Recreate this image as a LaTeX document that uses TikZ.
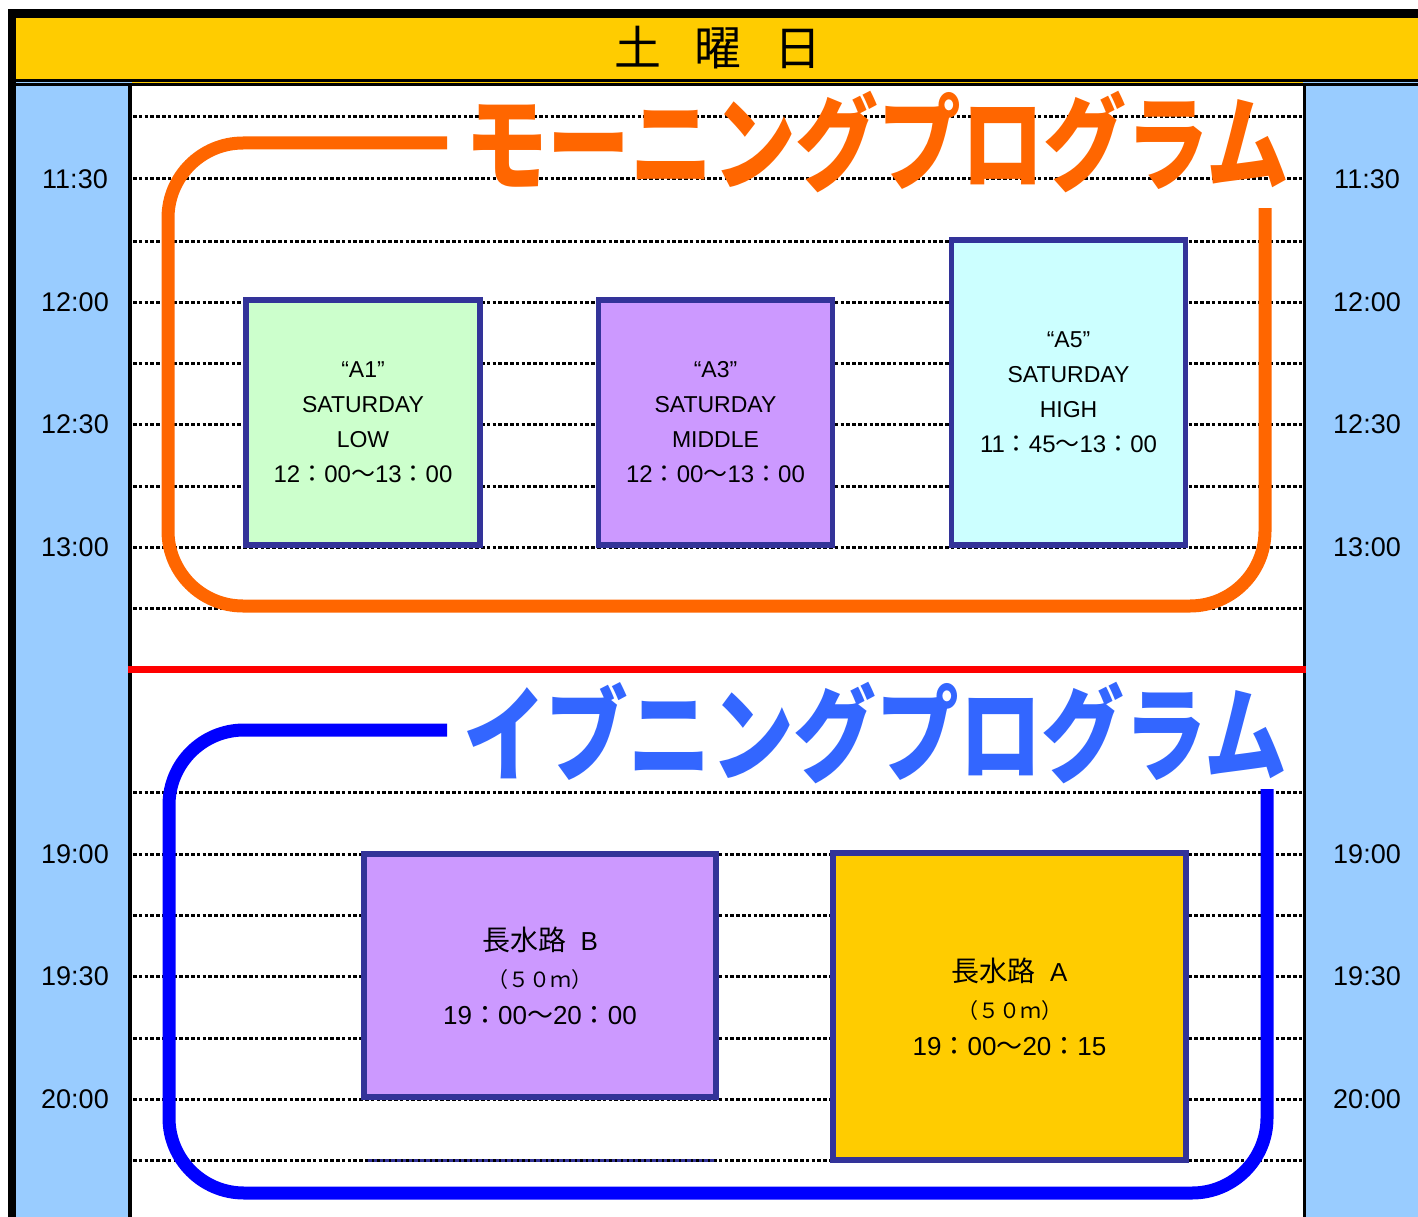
\documentclass[tikz,border=0pt]{standalone}
\usepackage{fontspec}
\setmainfont{Liberation Sans}
\newfontfamily\cjk{Noto Sans CJK JP}
\definecolor{hdryellow}{HTML}{FFCC00}
\definecolor{colblue}{HTML}{99CCFF}
\definecolor{progorange}{HTML}{FF6600}
\definecolor{titleblue}{HTML}{3366FF}
\definecolor{lineblue}{HTML}{0000FF}
\definecolor{boxline}{HTML}{333399}
\definecolor{fgreen}{HTML}{CCFFCC}
\definecolor{fpurple}{HTML}{CC99FF}
\definecolor{fcyan}{HTML}{CCFFFF}
\begin{document}
\begin{tikzpicture}[x=1pt,y=-1pt,
  dotline/.style={line width=3, dash pattern=on 3.5pt off 2.3pt},
  tlab/.style={font=\fontsize{27}{30}\selectfont, inner sep=0},
  progbox/.style={draw=boxline, line width=5.5, align=center, inner sep=0,
     font=\fontsize{23}{35}\selectfont},
  bigline/.style={line width=13, rounded corners=75}
]
\useasboundingbox (0,0) rectangle (1418,1217);
\fill[white] (0,0) rectangle (1418,1217);
% columns
\fill[colblue] (16,86) rectangle (130,1217);
\fill[colblue] (1304,86) rectangle (1418,1217);
% header
\fill[hdryellow] (16,18) rectangle (1418,79);
\fill[black] (8,9) rectangle (1418,18);
\fill[black] (8,9) rectangle (16,1217);
\fill[black] (16,79) rectangle (1418,82);
\fill[hdryellow] (16,82) rectangle (1418,83.3);
\fill[colblue] (16,82) rectangle (132,83.3);
\fill[colblue] (1303,82) rectangle (1418,83.3);
\fill[black] (16,83.3) rectangle (1418,86.3);
\draw[line width=4] (130,83) -- (130,1217);
\draw[line width=3] (1304.5,83) -- (1304.5,1217);
\node[font=\cjk\fontsize{47}{50}\selectfont, inner sep=0] (hdr) at (718,48) {土\hspace{33pt}曜\hspace{33pt}日};
% dotted grid
\foreach \yy in {117,179,241,302,363,424,486,547,608,792,854,915,976,1038,1099,1160}
  \draw[dotline] (133,\yy) -- (1302,\yy);
\draw[dotline, boxline] (368,1160) -- (715,1160);
% time labels
\foreach \t/\yy in {11:30/179,12:00/302,12:30/424,13:00/547,19:00/854,19:30/976,20:00/1099}{
  \node[tlab] (tl\yy) at (75,\yy) {\t};
  \node[tlab] (tr\yy) at (1367,\yy) {\t};
}
% red separator
\draw[red, line width=7.5] (128,669.5) -- (1306,669.5);
% program frames
\draw[bigline, progorange] (447,143) -- (168,143) -- (168,606) -- (1265,606) -- (1265,208);
\draw[bigline, lineblue] (447,730) -- (169,730) -- (169,1193) -- (1267,1193) -- (1267,789);
% titles
\node[anchor=base west, inner sep=0, text=progorange] (morning) at (465,183)
  {\scalebox{0.795}[1]{\cjk\bfseries\fontsize{104}{110}\selectfont モーニングプログラム}};
\node[anchor=base west, inner sep=0, text=titleblue] (evening) at (463,773)
  {\scalebox{0.795}[1]{\cjk\bfseries\fontsize{104}{110}\selectfont イブニングプログラム}};
% boxes
\node[progbox, fill=fgreen, minimum width=234, minimum height=245] (a1) at (363,422.5)
  {“A1”\\SATURDAY\\LOW\\{\fontsize{24}{35}\selectfont 12{\cjk ：}00{\cjk ～}13{\cjk ：}00}};
\node[progbox, fill=fpurple, minimum width=234, minimum height=245] (a3) at (715.5,422.5)
  {“A3”\\SATURDAY\\MIDDLE\\{\fontsize{24}{35}\selectfont 12{\cjk ：}00{\cjk ～}13{\cjk ：}00}};
\node[progbox, fill=fcyan, minimum width=234, minimum height=305] (a5) at (1068.5,392.5)
  {“A5”\\SATURDAY\\HIGH\\{\fontsize{24}{35}\selectfont 11{\cjk ：}45{\cjk ～}13{\cjk ：}00}};
\node[progbox, fill=fpurple, minimum width=352, minimum height=243, font=\fontsize{26}{37}\selectfont] (lb) at (540,975.5)
  {{\cjk\fontsize{28}{37}\selectfont 長水路}\ \ B\\{\cjk\fontsize{21}{37}\selectfont （５０ｍ）}\\19{\cjk ：}00{\cjk ～}20{\cjk ：}00};
\node[progbox, fill=hdryellow, minimum width=353, minimum height=307, font=\fontsize{26}{37}\selectfont] (la) at (1009.5,1006.5)
  {{\cjk\fontsize{28}{37}\selectfont 長水路}\ \ A\\{\cjk\fontsize{21}{37}\selectfont （５０ｍ）}\\19{\cjk ：}00{\cjk ～}20{\cjk ：}15};
\end{tikzpicture}
\end{document}
